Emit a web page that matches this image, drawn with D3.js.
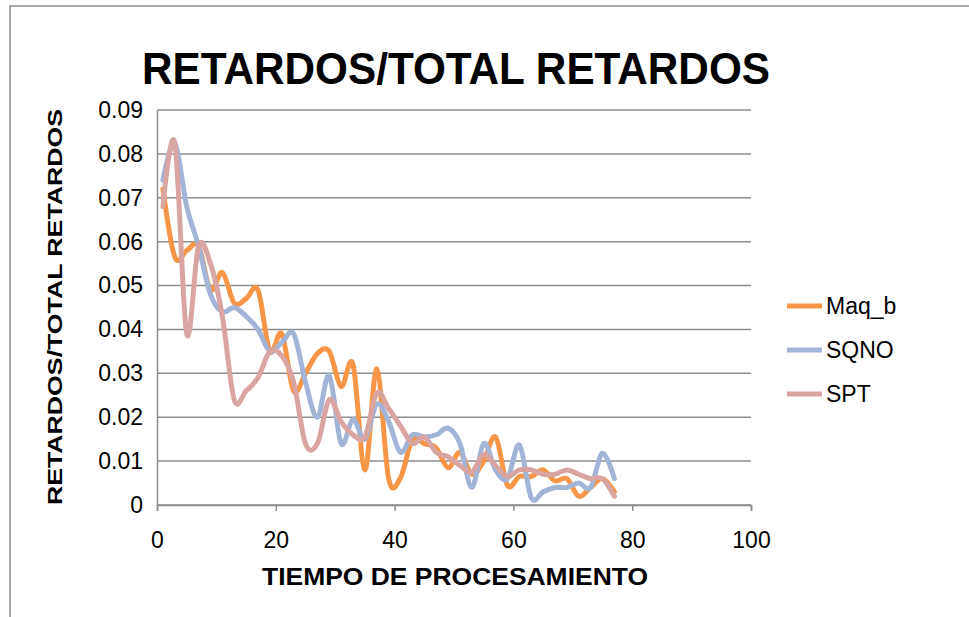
<!DOCTYPE html>
<html><head><meta charset="utf-8">
<script src="https://cdn.jsdelivr.net/npm/d3@7"></script>
<style>body{margin:0;background:#fff;}svg{display:block;font-family:"Liberation Sans",Arial,sans-serif;}</style>
</head><body>
<svg id="c" width="969" height="617"></svg>
<script>
const xValues = [1,3,5,7,9,11,13,15,17,19,21,23,25,27,29,31,33,35,37,39,41,43,45,47,49,51,53,55,57,59,61,63,65,67,69,71,73,75,77];
const maqB = [0.072,0.0565,0.058,0.059,0.049,0.053,0.046,0.047,0.049,0.035,0.039,0.026,0.030,0.0345,0.035,0.027,0.032,0.008,0.031,0.006,0.0062,0.015,0.014,0.013,0.0085,0.012,0.007,0.010,0.0155,0.0045,0.0065,0.0065,0.008,0.0055,0.006,0.002,0.004,0.006,0.003];
const sqno = [0.074,0.0825,0.068,0.059,0.048,0.044,0.045,0.043,0.040,0.035,0.037,0.039,0.028,0.020,0.0295,0.014,0.0195,0.015,0.023,0.019,0.012,0.016,0.0155,0.016,0.0175,0.014,0.004,0.014,0.008,0.006,0.0137,0.0017,0.003,0.004,0.004,0.005,0.004,0.0118,0.006];
const spt = [0.068,0.0825,0.039,0.059,0.055,0.043,0.024,0.026,0.029,0.035,0.034,0.028,0.014,0.014,0.024,0.019,0.016,0.0155,0.0255,0.022,0.018,0.014,0.0155,0.012,0.011,0.009,0.0075,0.0115,0.009,0.0065,0.008,0.008,0.007,0.007,0.008,0.007,0.006,0.006,0.002];
const seriesNames = ["Maq_b","SQNO","SPT"];
const seriesColors = ["#F79646","#A2B5D7","#D9A5A2"];
const yTicks = [0,0.01,0.02,0.03,0.04,0.05,0.06,0.07,0.08,0.09];
const xTicks = [0,20,40,60,80,100];
const title = "RETARDOS/TOTAL RETARDOS";
const yTitle = "RETARDOS/TOTAL RETARDOS";
const xTitle = "TIEMPO DE PROCESAMIENTO";

const svg = d3.select("#c");
// chart border
svg.append("rect").attr("x",10).attr("y",6).attr("width",980).attr("height",640)
  .attr("fill","none").attr("stroke","#8c8c8c").attr("stroke-width",1.5);

const x = d3.scaleLinear().domain([0,100]).range([157,751]);
const y = d3.scaleLinear().domain([0,0.09]).range([505,110]);

// gridlines
svg.append("g").selectAll("line").data(yTicks).join("line")
  .attr("x1",x(0)).attr("x2",x(100)).attr("y1",d=>y(d)).attr("y2",d=>y(d))
  .attr("stroke","#8c8c8c").attr("stroke-width",1.5);

// y axis
const yAxis = svg.append("g").attr("transform",`translate(${x(0)},0)`)
  .call(d3.axisLeft(y).tickValues(yTicks).tickFormat(d=>d===0?"0":d3.format(".2f")(d)).tickSize(0).tickPadding(14));
yAxis.select(".domain").attr("stroke","#8c8c8c").attr("stroke-width",1.5);
yAxis.selectAll("text").attr("font-size",23).attr("fill","#000").attr("font-family","Liberation Sans, Arial, sans-serif");

// x axis
const xAxis = svg.append("g").attr("transform",`translate(0,${y(0)})`)
  .call(d3.axisBottom(x).tickValues(xTicks).tickSize(6).tickPadding(21));
xAxis.select(".domain").attr("stroke","#8c8c8c").attr("stroke-width",1.5);
xAxis.selectAll("line").attr("stroke","#8c8c8c").attr("stroke-width",1.5);
xAxis.selectAll("text").attr("font-size",23).attr("fill","#000").attr("font-family","Liberation Sans, Arial, sans-serif");

// lines
const data = [maqB, sqno, spt];
const line = d3.line().x((d,i)=>x(xValues[i])).y(d=>y(d)).curve(d3.curveCatmullRom.alpha(0));
data.forEach((s,k)=>{
  svg.append("path").datum(s).attr("d",line).attr("fill","none")
    .attr("stroke",seriesColors[k]).attr("stroke-width",5).attr("stroke-linejoin","round").attr("stroke-linecap","round");
});

// title
svg.append("text").attr("x",456).attr("y",84).attr("text-anchor","middle")
  .attr("font-size",45).attr("font-weight","bold").attr("textLength",628).attr("lengthAdjust","spacingAndGlyphs")
  .text(title);
// y title
svg.append("text").attr("transform","translate(62,307) rotate(-90)").attr("text-anchor","middle")
  .attr("font-size",20).attr("font-weight","bold").attr("textLength",396).attr("lengthAdjust","spacingAndGlyphs")
  .text(yTitle);
// x title
svg.append("text").attr("x",455).attr("y",585).attr("text-anchor","middle")
  .attr("font-size",23).attr("font-weight","bold").attr("textLength",386).attr("lengthAdjust","spacingAndGlyphs")
  .text(xTitle);

// legend
const lg = svg.append("g");
seriesNames.forEach((n,k)=>{
  const yy = 306 + k*44;
  lg.append("line").attr("x1",787).attr("x2",822).attr("y1",yy).attr("y2",yy)
    .attr("stroke",seriesColors[k]).attr("stroke-width",5);
  lg.append("text").attr("x",826).attr("y",yy+8).attr("font-size",23).text(n);
});
</script>
</body></html>
